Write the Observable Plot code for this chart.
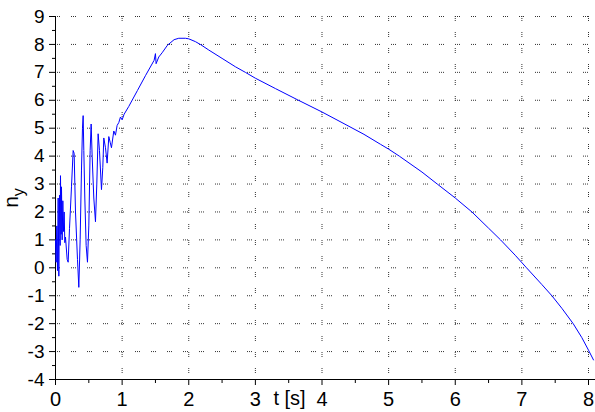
<!DOCTYPE html>
<html>
<head>
<meta charset="utf-8">
<script src="https://cdn.jsdelivr.net/npm/d3@7"></script>
<script src="https://cdn.jsdelivr.net/npm/@observablehq/plot@0.6"></script>
<style>
  html, body { margin: 0; padding: 0; background: #fff; }
  #chart { width: 595px; height: 412px; position: relative; }
</style>
</head>
<body>
<div id="chart"></div>
<script>
// time [s]
const tValues = [0, 0.01, 0.02, 0.03, 0.04, 0.05, 0.06, 0.07, 0.075, 0.085, 0.09, 0.1, 0.11, 0.12, 0.13, 0.14, 0.15,
  0.175, 0.19, 0.21, 0.24, 0.265, 0.28, 0.3, 0.33, 0.35, 0.37, 0.39, 0.405, 0.415, 0.425, 0.44, 0.46, 0.48, 0.5,
  0.52, 0.535, 0.55, 0.575, 0.6, 0.62, 0.64, 0.66, 0.69, 0.71, 0.725, 0.75, 0.775, 0.8, 0.82, 0.84, 0.875, 0.9,
  0.925, 0.95, 0.975, 1.0, 1.03, 1.1, 1.23, 1.35, 1.48, 1.5, 1.51, 1.55, 1.6, 1.68, 1.78, 1.85, 1.95, 2.0, 2.1,
  2.18, 2.3, 2.5, 2.7, 2.85, 3.0, 3.3, 3.63, 4.0, 4.3, 4.63, 4.88, 5.0, 5.16, 5.5, 5.73, 6.0, 6.25, 6.5, 6.68, 6.9,
  7.07, 7.3, 7.45, 7.6, 7.77, 7.9, 8.0, 8.075];
// load factor n_y
const nyValues = [1.0, 0.2, 1.5, -0.1, 2.5, -0.3, 2.6, 0.8, 3.3, 1.2, 2.9, 1.0, 2.4, 1.3, 2.0, 0.9, 1.1,
  0.3, 0.2, 1.4, 2.9, 4.2, 4.1, 2.0, 0.3, -0.7, 1.0, 3.5, 5.0, 5.45, 4.2, 2.5, 0.8, 0.2, 1.5,
  4.2, 5.15, 4.0, 2.5, 1.65, 3.0, 4.8, 4.2, 2.8, 3.6, 4.65, 4.3, 3.75, 4.7, 4.5, 4.3, 4.9, 4.75,
  5.1, 5.2, 5.4, 5.3, 5.5, 5.78, 6.35, 6.88, 7.43, 7.67, 7.31, 7.55, 7.7, 7.97, 8.17, 8.22, 8.22, 8.2, 8.1,
  7.99, 7.8, 7.5, 7.2, 7.0, 6.79, 6.42, 6.02, 5.58, 5.2, 4.78, 4.42, 4.25, 4.0, 3.43, 3.0, 2.5, 2.0, 1.42, 1.0, 0.45,
  0.0, -0.6, -1.0, -1.45, -2.0, -2.5, -2.95, -3.3];

const xMajor = [0, 1, 2, 3, 4, 5, 6, 7, 8];
const yMajor = [-4, -3, -2, -1, 0, 1, 2, 3, 4, 5, 6, 7, 8, 9];
const xMinor = [0.5, 1.5, 2.5, 3.5, 4.5, 5.5, 6.5, 7.5];
const yMinor = [-3.5, -2.5, -1.5, -0.5, 0.5, 1.5, 2.5, 3.5, 4.5, 5.5, 6.5, 7.5, 8.5];
const xLabel = "t [s]";

const data = tValues.map((t, i) => ({t, ny: nyValues[i]}));
const font = "'Liberation Sans', Arial, sans-serif";
const gridDash = "1,1,1,1,1,11";

const chart = Plot.plot({
  width: 595,
  height: 412,
  marginLeft: 55,
  marginRight: 0,
  marginTop: 16,
  marginBottom: 33,
  style: {fontFamily: font, background: "#fff", color: "#000"},
  x: {domain: [0, 8.105], label: null},
  y: {domain: [-4, 9], label: null},
  marks: [
    Plot.gridX(xMajor.slice(1), {stroke: "#333", strokeOpacity: 1, strokeDasharray: gridDash}),
    Plot.gridY(yMajor.slice(1), {stroke: "#333", strokeOpacity: 1, strokeDasharray: gridDash}),
    Plot.axisY(yMajor, {tickSize: 6, tickPadding: 5, fontSize: 19, tickFormat: d => String(d), label: null}),
    Plot.axisY(yMinor, {tickSize: 3, tickFormat: () => "", label: null}),
    Plot.axisX(xMajor, {tickSize: 6, tickPadding: 6.5, fontSize: 20, tickFormat: d => String(d), label: null}),
    Plot.axisX(xMinor, {tickSize: 4, tickFormat: () => "", label: null}),
    Plot.ruleX([0], {stroke: "#000"}),
    Plot.ruleY([-4], {stroke: "#000"}),
    Plot.line(data, {x: "t", y: "ny", stroke: "#0000ff", strokeWidth: 1}),
    Plot.text([xLabel], {frameAnchor: "bottom", dx: -36, dy: 25, fontSize: 20, fill: "#000"})
  ]
});

document.getElementById("chart").appendChild(chart);

// y-axis label with subscript
const svg = d3.select(chart);
const yl = svg.append("text")
  .attr("transform", "translate(18,198) rotate(-90)")
  .attr("font-family", font)
  .attr("font-size", 21)
  .attr("fill", "#000");
yl.append("tspan").text("n");
yl.append("tspan").attr("dy", 6).attr("font-size", 16).text("y");
</script>
</body>
</html>
